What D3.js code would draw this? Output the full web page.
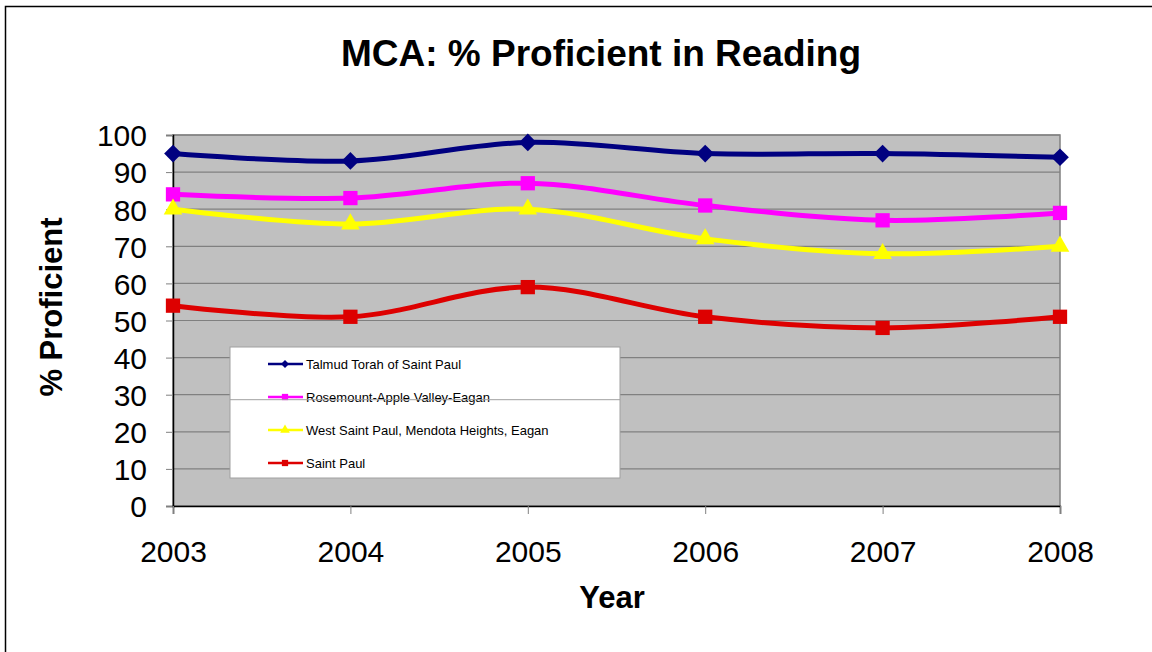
<!DOCTYPE html>
<html>
<head>
<meta charset="utf-8">
<script src="https://cdn.jsdelivr.net/npm/d3@7"></script>
<style>
  body { margin: 0; background: #fff; }
  text { font-family: "Liberation Sans", Arial, sans-serif; }
</style>
</head>
<body>
<div id="chart-area"></div>
<script>
/* MCA reading proficiency, smoothed lines */

var years = [2003, 2004, 2005, 2006, 2007, 2008];
var yTicks = [0, 10, 20, 30, 40, 50, 60, 70, 80, 90, 100];
var seriesNames = ["Talmud Torah of Saint Paul", "Rosemount-Apple Valley-Eagan",
    "West Saint Paul, Mendota Heights, Eagan", "Saint Paul"];
var talmud = [95, 93, 98, 95, 95, 94];
var rosemount = [84, 83, 87, 81, 77, 79];
var westStPaul = [80, 76, 80, 72, 68, 70];
var saintPaul = [54, 51, 59, 51, 48, 51];

var series = [
    { name: seriesNames[0], values: talmud, color: "#000080", marker: "diamond" },
    { name: seriesNames[1], values: rosemount, color: "#FF00FF", marker: "square" },
    { name: seriesNames[2], values: westStPaul, color: "#FFFF00", marker: "triangle" },
    { name: seriesNames[3], values: saintPaul, color: "#DD0000", marker: "square" }
];

var W = 1152, H = 652;
var margin = { left: 173, right: 92, top: 135, bottom: 146 };
var width = W - margin.left - margin.right;
var height = H - margin.top - margin.bottom;

var svg = d3.select("#chart-area")
    .append("svg")
    .attr("width", W)
    .attr("height", H);

// outer chart border
svg.append("rect")
    .attr("x", 5.5).attr("y", 6.5)
    .attr("width", W + 10).attr("height", H + 10)
    .attr("fill", "none").attr("stroke", "#000").attr("stroke-width", 1.5);

svg.append("text")
    .attr("x", 601).attr("y", 66)
    .attr("text-anchor", "middle")
    .attr("font-size", 37).attr("font-weight", "bold")
    .text("MCA: % Proficient in Reading");

var g = svg.append("g")
    .attr("transform", "translate(" + margin.left + "," + margin.top + ")");

var x = d3.scalePoint().domain(years).range([0, width]);
var y = d3.scaleLinear().domain([0, 100]).range([height, 0]);

// plot area
g.append("rect")
    .attr("width", width).attr("height", height)
    .attr("fill", "#C0C0C0").attr("stroke", "#808080").attr("stroke-width", 1.5);

g.selectAll(".grid")
    .data(yTicks.slice(1))
    .enter().append("line")
    .attr("x1", 0).attr("x2", width)
    .attr("y1", d => y(d)).attr("y2", d => y(d))
    .attr("stroke", "#808080").attr("stroke-width", 1.2);

// axes
var yAxis = g.append("g")
    .call(d3.axisLeft(y).tickValues(yTicks).tickSize(7).tickPadding(19));
var xAxis = g.append("g")
    .attr("transform", "translate(0," + height + ")")
    .call(d3.axisBottom(x).tickSize(8).tickPadding(27).tickFormat(d3.format("d")));

[yAxis, xAxis].forEach(function(a) {
    a.select(".domain").attr("stroke", "#000").attr("stroke-width", 1.5);
    a.selectAll(".tick line").attr("stroke", "#808080");
    a.selectAll("text").attr("font-size", 30).attr("fill", "#000")
        .style("font-family", "'Liberation Sans', Arial, sans-serif");
});
yAxis.selectAll("text").attr("dy", "0.36em");

svg.append("text")
    .attr("x", 612).attr("y", 608)
    .attr("text-anchor", "middle")
    .attr("font-size", 31).attr("font-weight", "bold")
    .text("Year");

svg.append("text")
    .attr("transform", "translate(62,307) rotate(-90)")
    .attr("text-anchor", "middle")
    .attr("font-size", 31).attr("font-weight", "bold")
    .text("% Proficient");

function markerPath(type, size) {
    if (type === "diamond") return d3.symbol().type(d3.symbolDiamond2).size(size)();
    if (type === "triangle") return d3.symbol().type(d3.symbolTriangle).size(size)();
    return d3.symbol().type(d3.symbolSquare2).size(size)();
}

var line = d3.line()
    .x(function(d, i) { return x(years[i]); })
    .y(function(d) { return y(d); })
    .curve(d3.curveCatmullRom.alpha(0.5));

var markerSize = { diamond: 200, square: 260, triangle: 150 };

series.forEach(function(s) {
    g.append("path")
        .datum(s.values)
        .attr("d", line)
        .attr("fill", "none")
        .attr("stroke", s.color)
        .attr("stroke-width", 5);

    g.selectAll(null)
        .data(s.values)
        .enter().append("path")
        .attr("transform", function(d, i) {
            return "translate(" + x(years[i]) + "," + y(d) + ")";
        })
        .attr("d", markerPath(s.marker, markerSize[s.marker]))
        .attr("fill", s.color);
});

// legend
var leg = svg.append("g").attr("transform", "translate(230,347)");
leg.append("rect")
    .attr("width", 390).attr("height", 131)
    .attr("fill", "#fff").attr("stroke", "#A0A0A0").attr("stroke-width", 1);
// the 30% gridline shows through the legend box
svg.append("line")
    .attr("x1", 230).attr("x2", 620)
    .attr("y1", margin.top + y(30) + 5).attr("y2", margin.top + y(30) + 5)
    .attr("stroke", "#A0A0A0").attr("stroke-width", 1);

var rows = leg.selectAll(".row")
    .data(series)
    .enter().append("g")
    .attr("transform", function(d, i) { return "translate(0," + (17 + i * 33) + ")"; });
rows.append("line")
    .attr("x1", 38).attr("x2", 73)
    .attr("stroke", d => d.color).attr("stroke-width", 2.5);
rows.append("path")
    .attr("transform", "translate(55,0)")
    .attr("d", d => markerPath(d.marker, d.marker === "diamond" ? 40 : (d.marker === "triangle" ? 40 : 50)))
    .attr("fill", d => d.color);
rows.append("text")
    .attr("x", 76).attr("dy", "0.36em")
    .attr("font-size", 13)
    .text(d => d.name);
</script>
</body>
</html>
